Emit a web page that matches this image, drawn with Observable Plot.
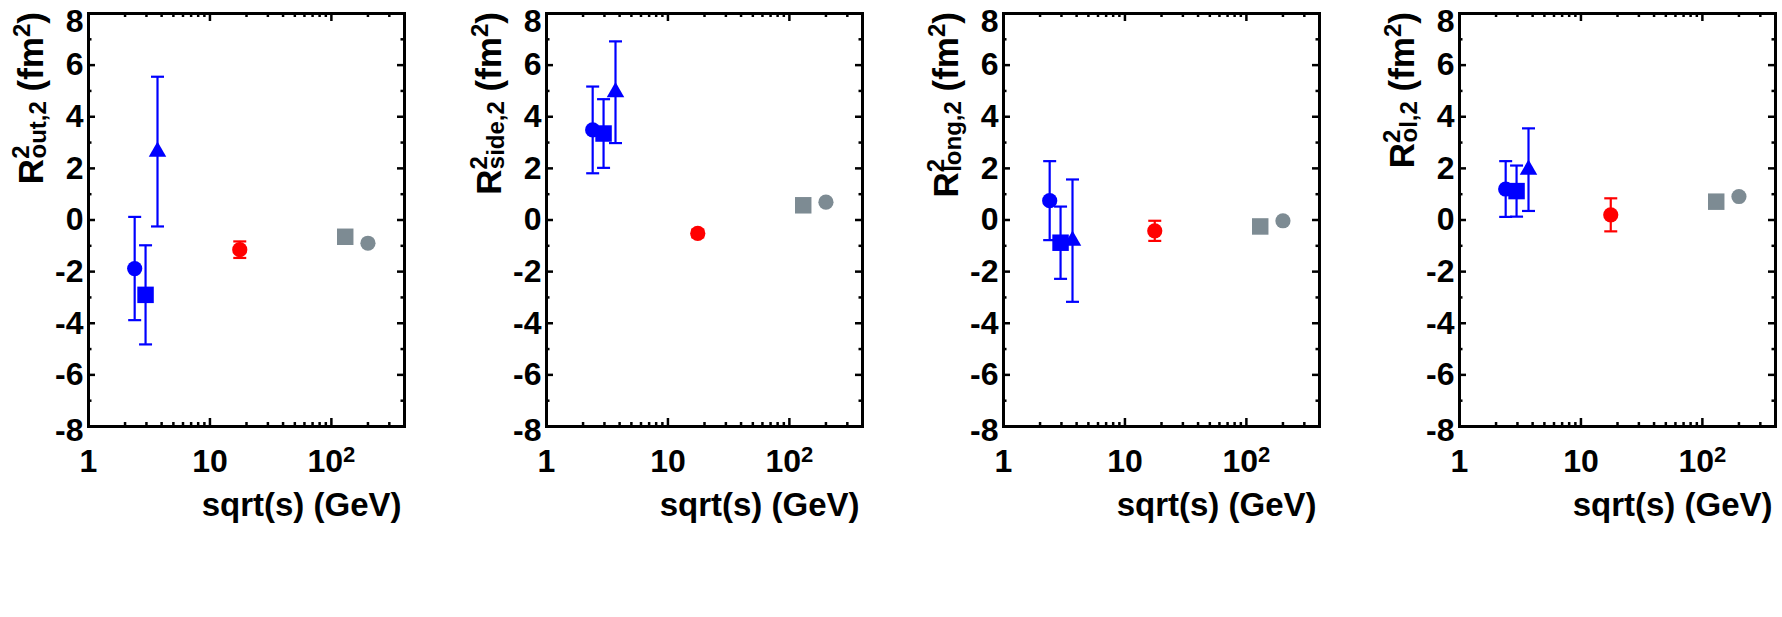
<!DOCTYPE html>
<html>
<head>
<meta charset="utf-8">
<script src="https://cdn.jsdelivr.net/npm/d3@7"></script>
<script src="https://cdn.jsdelivr.net/npm/@observablehq/plot@0.6"></script>
<style>
  html, body { margin: 0; padding: 0; background: #fff; }
  #chart { position: relative; width: 1782px; height: 617px; overflow: hidden; background: #fff; }
  #chart svg { position: absolute; top: 0; max-width: none; }
</style>
</head>
<body>
<div id="chart"></div>
<script>
// ---- data ----
const energy = [2.4, 2.95, 3.7, 17.6, 130, 200];           // sqrt(s) GeV
const marker = ["circle", "square", "triangle", "circle", "square", "circle"];
const dataset = ["E895", "E895", "E895", "CERES", "STAR", "STAR"];
const datasetColors = { E895: "#0000ff", CERES: "#ff0000", STAR: "#7d8b93" };

const rOut = [-1.88, -2.9, 2.65, -1.15, -0.65, -0.9];
const rOutErr = [2.0, 1.92, 2.9, 0.32, 0, 0];
const rSide = [3.49, 3.35, 4.95, -0.52, 0.57, 0.69];
const rSideErr = [1.68, 1.33, 1.97, 0.15, 0, 0];
const rLong = [0.75, -0.88, -0.8, -0.42, -0.25, -0.03];
const rLongErr = [1.53, 1.4, 2.37, 0.39, 0, 0];
const rOl = [1.2, 1.12, 1.95, 0.2, 0.71, 0.91];
const rOlErr = [1.08, 0.99, 1.6, 0.64, 0, 0];

const panelSubs = ["out,2", "side,2", "long,2", "ol,2"];
const panelValues = [rOut, rSide, rLong, rOl];
const panelErrors = [rOutErr, rSideErr, rLongErr, rOlErr];

const yTickLabels = [-8, -6, -4, -2, 0, 2, 4, 6, 8];
const yMinorTicks = [-7, -5, -3, -1, 1, 3, 5, 7];
const xTickLabels = [1, 10, 100];
const xMinorTicks = [2, 3, 4, 5, 6, 7, 8, 9, 20, 30, 40, 50, 60, 70, 80, 90, 200, 300, 400];
const xLabel = "sqrt(s) (GeV)";

// ---- layout ----
const frameLefts = [88, 546, 1003, 1459];
const FW = 316, FH = 413, MT = 13, ML = 88, MR = 30, H = 617;
const capSym = { draw(ctx) { ctx.moveTo(-6.5, 0); ctx.lineTo(6.5, 0); } };

const chart = document.getElementById("chart");

panelValues.forEach((vals, p) => {
  const errs = panelErrors[p];
  const rows = energy.map((x, i) => ({
    x, y: vals[i], e: errs[i], shape: marker[i], color: datasetColors[dataset[i]]
  }));
  const withErr = rows.filter(d => d.e > 0);
  const yMid = yTickLabels.filter(v => Math.abs(v) < 8);
  const svg = Plot.plot({
    width: ML + FW + MR,
    height: H,
    marginLeft: ML, marginRight: MR, marginTop: MT, marginBottom: H - MT - FH,
    style: { fontFamily: "'Liberation Sans', Arial, sans-serif", fontWeight: "bold", fontSize: "32px", color: "#000", background: "transparent", overflow: "visible" },
    x: { type: "log", domain: [1, 400] },
    y: { domain: [-8, 8] },
    color: { type: "identity" },
    marks: [
      // error bars
      Plot.ruleX(withErr, { x: "x", y1: d => d.y - d.e, y2: d => d.y + d.e, stroke: "color", strokeWidth: 2.2 }),
      Plot.dot(withErr, { x: "x", y: d => d.y + d.e, symbol: capSym, stroke: "color", strokeWidth: 2.2, fill: "none" }),
      Plot.dot(withErr, { x: "x", y: d => d.y - d.e, symbol: capSym, stroke: "color", strokeWidth: 2.2, fill: "none" }),
      // markers
      Plot.dot(rows.filter(d => d.shape === "circle"), { x: "x", y: "y", r: 7.6, symbol: "circle", fill: "color", stroke: "none" }),
      Plot.dot(rows.filter(d => d.shape === "square"), { x: "x", y: "y", r: 9.3, symbol: "square", fill: "color", stroke: "none" }),
      Plot.dot(rows.filter(d => d.shape === "triangle"), { x: "x", y: "y", r: 6.5, symbol: "triangle", fill: "color", stroke: "none" }),
      // inward ticks
      Plot.tickY(yTickLabels, { y: d => d, insetRight: FW - 7, strokeWidth: 2.5 }),
      Plot.tickY(yTickLabels, { y: d => d, insetLeft: FW - 7, strokeWidth: 2.5 }),
      Plot.tickY(yMinorTicks, { y: d => d, insetRight: FW - 3.5, strokeWidth: 2.5 }),
      Plot.tickY(yMinorTicks, { y: d => d, insetLeft: FW - 3.5, strokeWidth: 2.5 }),
      Plot.tickX(xTickLabels, { x: d => d, insetTop: FH - 8, strokeWidth: 2.5 }),
      Plot.tickX(xTickLabels, { x: d => d, insetBottom: FH - 8, strokeWidth: 2.5 }),
      Plot.tickX(xMinorTicks, { x: d => d, insetTop: FH - 4, strokeWidth: 2.5 }),
      Plot.tickX(xMinorTicks, { x: d => d, insetBottom: FH - 4, strokeWidth: 2.5 }),
      Plot.frame({ stroke: "#000", strokeWidth: 3 }),
      // axes (labels only)
      Plot.axisY({ ticks: yMid, tickSize: 0, tickPadding: 5, fontSize: 32, label: null, tickFormat: d => String(d) }),
      Plot.axisY({ ticks: [8], tickSize: 0, tickPadding: 5, fontSize: 32, label: null, dy: 8, tickFormat: d => String(d) }),
      Plot.axisY({ ticks: [-8], tickSize: 0, tickPadding: 5, fontSize: 32, label: null, dy: 4, tickFormat: d => String(d) }),
      Plot.axisX({ ticks: xTickLabels, tickSize: 0, tickPadding: 23, fontSize: 32, label: null,
                   tickFormat: d => d === 100 ? "10^2" : String(d) }),
      Plot.text([xLabel], { text: d => d, frameAnchor: "bottom-right", textAnchor: "end", lineAnchor: "middle", dy: 79, dx: -3, fontSize: 33, fill: "#000" })
    ]
  });
  svg.style.left = (frameLefts[p] - ML) + "px";
  // turn "10^2" tick label into a real superscript
  d3.select(svg).selectAll("text").filter(function () { return this.textContent === "10^2"; })
    .each(function () {
      const el = d3.select(this);
      el.text(null);
      el.append("tspan").text("10");
      el.append("tspan").attr("dy", "-0.45em").style("font-size", "22px").text("2");
    });
  // rotated y-axis title with super/subscripts
  const t = d3.select(svg).append("text")
    .attr("transform", `translate(${ML - 45},12) rotate(-90)`)
    .attr("text-anchor", "end")
    .attr("fill", "#000")
    .style("font-size", "35px")
    .style("font-weight", "bold");
  t.append("tspan").text("R");
  t.append("tspan").attr("dy", -14).style("font-size", "24px").text("2");
  t.append("tspan").attr("dx", -13).attr("dy", 17).style("font-size", "24px").text(panelSubs[p]);
  t.append("tspan").attr("dy", -3).text(" (fm");
  t.append("tspan").attr("dy", -13).style("font-size", "24px").text("2");
  t.append("tspan").attr("dy", 13).text(")");
  chart.appendChild(svg);
});
</script>
</body>
</html>
